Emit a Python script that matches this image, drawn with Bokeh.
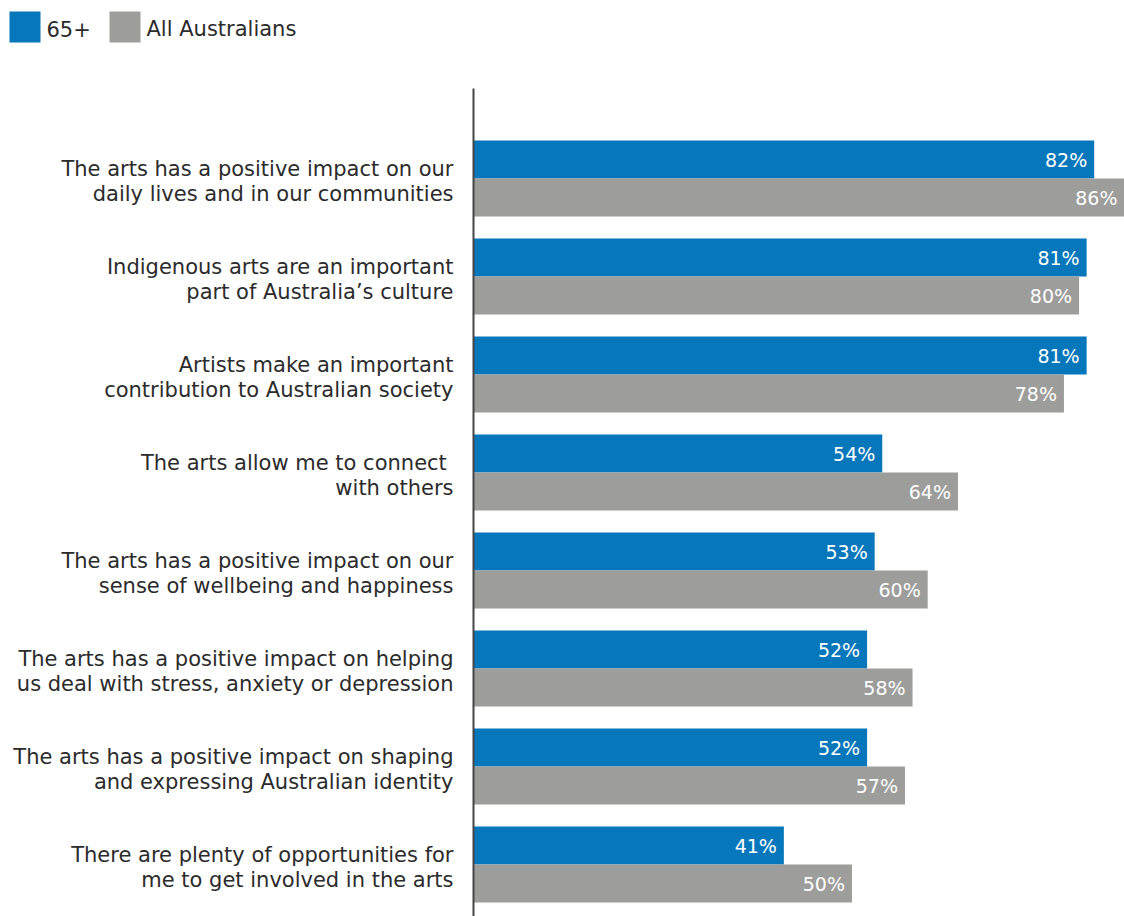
from bokeh.plotting import figure
from bokeh.models import ColumnDataSource, Range1d, BoxAnnotation, Label
from bokeh.core.properties import value
from bokeh.embed import file_html
from bokeh.resources import INLINE

categories = [
    "The arts has a positive impact on our\ndaily lives and in our communities",
    "Indigenous arts are an important\npart of Australia\u2019s culture",
    "Artists make an important\ncontribution to Australian society",
    "The arts  allow me to connect\nwith others",
    "The arts has a positive impact on our\nsense of wellbeing and happiness",
    "The arts has a positive impact on helping\nus deal with stress, anxiety or depression",
    "The arts has a positive impact on shaping\nand expressing Australian identity",
    "There are plenty of opportunities for\nme to get involved in the arts",
]
senior = [82, 81, 81, 54, 53, 52, 52, 41]
all_aus = [86, 80, 78, 64, 60, 58, 57, 50]
series_names = ["65+", "All Australians"]

BLUE = "#0777BB"
GREY = "#9D9D9C"
TEXT = "#2B2B2B"
FONT = "DejaVu Sans"

W, H = 1124, 916
px_per_pct = 651 / 86.0
x0 = -473 / px_per_pct
px_per_cat = 98.0
y_top = -178 / px_per_cat
y_bot = (H - 178) / px_per_cat
bh = 38 / px_per_cat

p = figure(width=W, height=H, output_backend="svg", toolbar_location=None,
           x_range=Range1d(x0, x0 + W / px_per_pct),
           y_range=Range1d(y_bot, y_top),
           min_border=0, min_border_left=0, min_border_right=0,
           min_border_top=0, min_border_bottom=0)
p.xaxis.visible = False
p.yaxis.visible = False
p.grid.visible = False
p.outline_line_color = None
p.background_fill_color = "white"
p.border_fill_color = "white"

idx = list(range(len(categories)))
src = ColumnDataSource(dict(
    y=idx,
    yb=[i - bh / 2 for i in idx],
    yg=[i + bh / 2 for i in idx],
    senior=senior, all_aus=all_aus,
    ls=[f"{v}%" for v in senior],
    la=[f"{v}%" for v in all_aus],
    cat=categories,
    zero=[0] * len(idx),
))

p.hbar(y="yb", left=0, right="senior", height=bh, color=BLUE, line_color=None, source=src)
p.hbar(y="yg", left=0, right="all_aus", height=bh, color=GREY, line_color=None, source=src)

p.text(x="senior", y="yb", text="ls", source=src, x_offset=-7, text_align="right",
       text_baseline="middle", text_color="white", text_font=value(FONT), text_font_size="19px")
p.text(x="all_aus", y="yg", text="la", source=src, x_offset=-7, text_align="right",
       text_baseline="middle", text_color="white", text_font=value(FONT), text_font_size="19px")

p.text(x="zero", y="y", text="cat", source=src, x_offset=-20, y_offset=3, text_align="right",
       text_baseline="middle", text_color=TEXT, text_font=value(FONT), text_font_size="21px",
       text_line_height=1.06)

# vertical axis line
p.segment(x0=[0], y0=[(88 - 178) / px_per_cat], x1=[0], y1=[y_bot],
          line_color="#444444", line_width=2)

# legend
p.add_layout(BoxAnnotation(left=9, right=40, top=H - 11, bottom=H - 42,
                           left_units="screen", right_units="screen",
                           top_units="screen", bottom_units="screen",
                           fill_color=BLUE, fill_alpha=1, line_color=None))
p.add_layout(BoxAnnotation(left=109, right=140, top=H - 11, bottom=H - 42,
                           left_units="screen", right_units="screen",
                           top_units="screen", bottom_units="screen",
                           fill_color=GREY, fill_alpha=1, line_color=None))
p.add_layout(Label(x=46, y=H - 28, x_units="screen", y_units="screen", text=series_names[0],
                   text_baseline="middle", text_color=TEXT, text_font=FONT, text_font_size="21px"))
p.add_layout(Label(x=146, y=H - 28, x_units="screen", y_units="screen", text=series_names[1],
                   text_baseline="middle", text_color=TEXT, text_font=FONT, text_font_size="21px"))

open("out.html", "w").write(file_html(p, INLINE))
